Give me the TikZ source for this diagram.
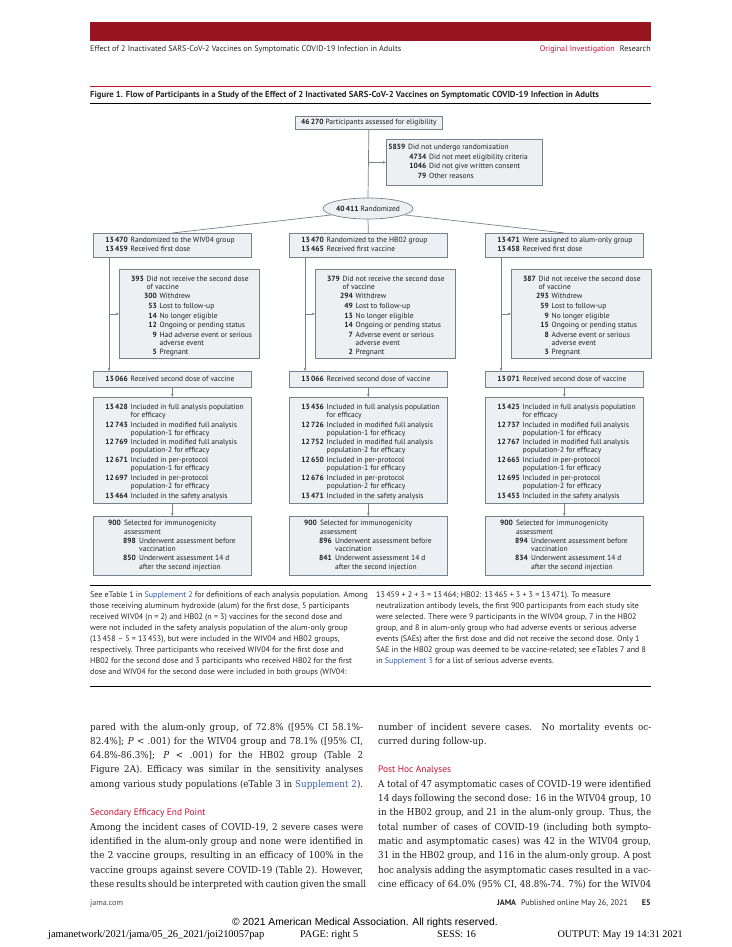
\documentclass[tikz,border=0pt]{standalone}
\usepackage{fontspec}
\setmainfont{DejaVu Serif}[FakeStretch=0.92]
\newfontfamily\sff{PT Sans}
\newfontfamily\arialf{Liberation Sans}
\newfontfamily\timesf{Liberation Serif}
\usetikzlibrary{arrows.meta,calc,shapes.geometric}
\definecolor{barred}{RGB}{152,20,30}
\definecolor{jred}{RGB}{205,16,50}
\definecolor{jblue}{RGB}{50,90,170}
\definecolor{boxfill}{RGB}{237,240,243}
\definecolor{boxline}{RGB}{120,128,136}
\definecolor{txt}{RGB}{30,30,35}
\newcounter{tn}
\newcommand\itm[5]{\stepcounter{tn}\node[numtxt] (q\arabic{tn}n) at (#1,#3) {#4};\node[boxtxt] (q\arabic{tn}t) at (#2,#3) {#5};}
\newcommand\wrp[3]{\stepcounter{tn}\node[boxtxt] (q\arabic{tn}w) at (#1,#2) {#3};}
\newcommand\colboxes[1]{%
 \node[flowbox, minimum width=158pt, minimum height=24pt] (#11) at (93,233) {};
 \node[flowbox, minimum width=140pt, minimum height=89pt] (#12) at (119,269) {};
 \node[flowbox, minimum width=158pt, minimum height=16pt] (#13) at (93,371) {};
 \node[flowbox, minimum width=158pt, minimum height=106pt] (#14) at (93,397) {};
 \node[flowbox, minimum width=158pt, minimum height=59pt] (#15) at (93,516) {};
 \coordinate (#1v) at ($(#11.south west)+(16,0)$);
 \coordinate (#1b) at (#1v |- #12.west);
 \draw[arrline] (#1v) -- (#1v |- #13.north);
 \draw[arrline] (#1b) -- (#12.west);
 \draw[arrline] (#13.south) -- (#14.north);
 \draw[arrline] (#14.south) -- (#15.north);}
\newcommand\boxone[4]{\itm{128}{130.5}{242.5}{#1}{#2}\itm{128}{130.5}{251.5}{#3}{#4}}
\newcommand\boxtwo[8]{%
 \itm{144}{146.5}{281.5}{#1}{Did not receive the second dose}\wrp{146.5}{289.3}{of vaccine}
 \itm{157}{159.5}{298.9}{#2}{Withdrew}
 \itm{157}{159.5}{308.5}{#3}{Lost to follow-up}
 \itm{157}{159.5}{318.1}{#4}{No longer eligible}
 \itm{157}{159.5}{327.7}{#5}{Ongoing or pending status}
 \itm{157}{159.5}{337.3}{#6}{#8 event or serious}\wrp{159.5}{345.1}{adverse event}
 \itm{157}{159.5}{354.7}{#7}{Pregnant}}
\newcommand\boxthree[1]{\itm{128}{130.5}{381.5}{#1}{Received second dose of vaccine}}
\newcommand\boxfour[6]{%
 \itm{128}{130.5}{409.5}{#1}{Included in full analysis population}\wrp{130.5}{417.3}{for efficacy}
 \itm{128}{130.5}{427.2}{#2}{Included in modified full analysis}\wrp{130.5}{435}{population-1 for efficacy}
 \itm{128}{130.5}{444.9}{#3}{Included in modified full analysis}\wrp{130.5}{452.7}{population-2 for efficacy}
 \itm{128}{130.5}{462.6}{#4}{Included in per-protocol}\wrp{130.5}{470.4}{population-1 for efficacy}
 \itm{128}{130.5}{480.3}{#5}{Included in per-protocol}\wrp{130.5}{488.1}{population-2 for efficacy}
 \itm{128}{130.5}{498}{#6}{Included in the safety analysis}}
\newcommand\boxfive[3]{%
 \itm{121}{124}{525.5}{#1}{Selected for immunogenicity}\wrp{124}{534}{assessment}
 \itm{136}{139}{543}{#2}{Underwent assessment before}\wrp{139}{551.5}{vaccination}
 \itm{136}{139}{560.5}{#3}{Underwent assessment 14 d}\wrp{139}{569}{after the second injection}}
\newcommand\jl[3]{\stepcounter{tn}\node[bodytxt] (q\arabic{tn}j) at (#1,#2) {\makebox[273pt][s]{#3}};}
\newcommand\nl[3]{\stepcounter{tn}\node[bodytxt] (q\arabic{tn}j) at (#1,#2) {#3};}
\newcommand\capl[3]{\stepcounter{tn}\node[captxt] (q\arabic{tn}c) at (#1,#2) {#3};}
\newcommand\suplink[1]{\textcolor{jblue}{#1}}
\begin{document}
\begin{tikzpicture}[x=1pt,y=-1pt,
 flowbox/.style={draw=boxline, fill=boxfill, line width=0.7pt, inner sep=0pt, anchor=north west},
 connline/.style={draw=boxline, line width=0.7pt},
 arrline/.style={connline, -{Stealth[length=3.2pt,width=2.6pt]}},
 numtxt/.style={font=\sff\bfseries\fontsize{7.5}{8}\selectfont, text=txt, inner sep=0pt, anchor=base east},
 boxtxt/.style={font=\sff\fontsize{7.5}{8}\selectfont, text=txt, inner sep=0pt, anchor=base west},
 hdtxt/.style={font=\sff\fontsize{8.1}{9}\selectfont, text=black!85, inner sep=0pt},
 captxt/.style={font=\sff\fontsize{8.05}{9}\selectfont, text=black!85, inner sep=0pt, anchor=base west},
 bodytxt/.style={font=\fontsize{9.5}{10}\selectfont, text=black!88, inner sep=0pt, anchor=base west},
 headtxt/.style={font=\sff\fontsize{9.4}{12}\selectfont, text=jred, inner sep=0pt, anchor=base west}]
\useasboundingbox (0,0) rectangle (731,947);
\fill[white] (0,0) rectangle (731,947);
% header
\fill[barred] (90,22) rectangle (651,41);
\node[hdtxt, anchor=base west] (hdl) at (90,52) {Effect of 2 Inactivated SARS-CoV-2 Vaccines on Symptomatic COVID-19 Infection in Adults};
\node[hdtxt, anchor=base east] (hdr) at (651,52) {\textcolor{jred}{Original Investigation}\hspace{5pt}Research};
\draw[jred, line width=1.2pt] (90,86.5) -- (651,86.5);
\node[hdtxt, font=\sff\bfseries\fontsize{8.7}{9}\selectfont, anchor=base west] (figt) at (90,98) {Figure 1. Flow of Participants in a Study of the Effect of 2 Inactivated SARS-CoV-2 Vaccines on Symptomatic COVID-19 Infection in Adults};
\draw[black, line width=0.8pt] (90,103.5) -- (651,103.5);
% top of flow
\node[flowbox, minimum width=147pt, minimum height=13pt] (elig) at (295,116) {};
\node[boxtxt, anchor=center] (eligt) at (elig.center) {\textbf{46\,270} Participants assessed for eligibility};
\node[flowbox, minimum width=156pt, minimum height=46pt] (excl) at (386,139) {};
\itm{405.5}{408}{149.5}{5859}{Did not undergo randomization}
\itm{426.5}{429}{159.1}{4734}{Did not meet eligibility criteria}
\itm{426.5}{429}{168.7}{1046}{Did not give written consent}
\itm{426.5}{429}{178.3}{79}{Other reasons}
\node[draw=boxline, fill=boxfill, line width=0.7pt, ellipse, minimum width=90pt, minimum height=21pt, inner sep=0pt] (rand) at (368,208.5) {};
\node[boxtxt, anchor=center] (randt) at (rand.center) {\textbf{40\,411} Randomized};
\draw[connline] (elig.south) -- (rand.north);
\coordinate (exb) at (elig.south |- excl.west);
\draw[arrline] (exb) -- (excl.west);
% columns
\begin{scope}
\colboxes{a}
\boxone{13\,470}{Randomized to the WIV04 group}{13\,459}{Received first dose}
\boxtwo{393}{300}{53}{14}{12}{9}{5}{Had adverse}
\boxthree{13\,066}
\boxfour{13\,428}{12\,743}{12\,769}{12\,671}{12\,697}{13\,464}
\boxfive{900}{898}{850}
\end{scope}
\begin{scope}[xshift=196pt]
\colboxes{b}
\boxone{13\,470}{Randomized to the HB02 group}{13\,465}{Received first vaccine}
\boxtwo{379}{294}{49}{13}{14}{7}{2}{Adverse}
\boxthree{13\,066}
\boxfour{13\,436}{12\,726}{12\,752}{12\,650}{12\,676}{13\,471}
\boxfive{900}{896}{841}
\end{scope}
\begin{scope}[xshift=392pt]
\colboxes{c}
\boxone{13\,471}{Were assigned to alum-only group}{13\,458}{Received first dose}
\boxtwo{387}{293}{59}{9}{15}{8}{3}{Adverse}
\boxthree{13\,071}
\boxfour{13\,425}{12\,737}{12\,767}{12\,665}{12\,695}{13\,453}
\boxfive{900}{894}{834}
\end{scope}
\draw[connline] (rand.190) -- (a1.north);
\draw[connline] (rand.south) -- (b1.north);
\draw[connline] (rand.350) -- (c1.north);
% caption
\draw[black, line width=0.8pt] (90,585) -- (651,585);
\capl{90}{597}{See eTable 1 in \suplink{Supplement 2} for definitions of each analysis population. Among}
\capl{90}{608}{those receiving aluminum hydroxide (alum) for the first dose, 5 participants}
\capl{90}{619}{received WIV04 (n = 2) and HB02 (n = 3) vaccines for the second dose and}
\capl{90}{630}{were not included in the safety analysis population of the alum-only group}
\capl{90}{641}{(13\,458 \textendash{} 5 = 13\,453), but were included in the WIV04 and HB02 groups,}
\capl{90}{652}{respectively. Three participants who received WIV04 for the first dose and}
\capl{90}{663}{HB02 for the second dose and 3 participants who received HB02 for the first}
\capl{90}{674}{dose and WIV04 for the second dose were included in both groups (WIV04:}
\capl{376}{597}{13\,459 + 2 + 3 = 13\,464; HB02: 13\,465 + 3 + 3 = 13\,471). To measure}
\capl{376}{608}{neutralization antibody levels, the first 900 participants from each study site}
\capl{376}{619}{were selected. There were 9 participants in the WIV04 group, 7 in the HB02}
\capl{376}{630}{group, and 8 in alum-only group who had adverse events or serious adverse}
\capl{376}{641}{events (SAEs) after the first dose and did not receive the second dose. Only 1}
\capl{376}{652}{SAE in the HB02 group was deemed to be vaccine-related; see eTables 7 and 8}
\capl{376}{663}{in \suplink{Supplement 3} for a list of serious adverse events.}
\draw[black, line width=0.8pt] (90,686) -- (651,686);
% body left
\jl{90}{730}{pared with the alum-only group, of 72.8\% ([95\% CI 58.1\%-}
\jl{90}{744.3}{82.4\%]; \textit{P} < .001) for the WIV04 group and 78.1\% ([95\% CI,}
\jl{90}{758.6}{64.8\%-86.3\%]; \textit{P} < .001) for the HB02 group (Table 2}
\jl{90}{772.9}{Figure 2A). Efficacy was similar in the sensitivity analyses}
\jl{90}{787.2}{among various study populations (eTable 3 in \suplink{Supplement 2}).}
\stepcounter{tn}\node[headtxt] (q\arabic{tn}h) at (90,815.8) {Secondary Efficacy End Point};
\jl{90}{830.1}{Among the incident cases of COVID-19, 2 severe cases were}
\jl{90}{844.4}{identified in the alum-only group and none were identified in}
\jl{90}{858.7}{the 2 vaccine groups, resulting in an efficacy of 100\% in the}
\jl{90}{873}{vaccine groups against severe COVID-19 (Table 2). However,}
\jl{90}{887.3}{these results should be interpreted with caution given the small}
% body right
\jl{378}{730}{number of incident severe cases. No mortality events oc-}
\nl{378}{744.3}{curred during follow-up.}
\stepcounter{tn}\node[headtxt] (q\arabic{tn}h) at (378,772.9) {Post Hoc Analyses};
\jl{378}{787.2}{A total of 47 asymptomatic cases of COVID-19 were identified}
\jl{378}{801.5}{14 days following the second dose: 16 in the WIV04 group, 10}
\jl{378}{815.8}{in the HB02 group, and 21 in the alum-only group. Thus, the}
\jl{378}{830.1}{total number of cases of COVID-19 (including both sympto-}
\jl{378}{844.4}{matic and asymptomatic cases) was 42 in the WIV04 group,}
\jl{378}{858.7}{31 in the HB02 group, and 116 in the alum-only group. A post}
\jl{378}{873}{hoc analysis adding the asymptomatic cases resulted in a vac-}
\jl{378}{887.3}{cine efficacy of 64.0\% (95\% CI, 48.8\%-74. 7\%) for the WIV04}
% footer
\node[hdtxt, anchor=base west, text=black!70] (ft1) at (90,905.5) {jama.com};
\node[hdtxt, anchor=base east] (ft2) at (651,905.5) {\textbf{JAMA}\hspace{5pt}Published online May 26, 2021\hspace{14pt}\textbf{E5}};
\node[font=\arialf\fontsize{10.3}{11}\selectfont, inner sep=0pt, anchor=base] (ft3) at (365,925.5) {\textcopyright{} 2021 American Medical Association. All rights reserved.};
\node[font=\timesf\fontsize{10.4}{11}\selectfont, inner sep=0pt, anchor=base west] (ft4) at (48,937.5) {jamanetwork/2021/jama/05\_26\_2021/joi210057pap};
\node[font=\timesf\fontsize{10.2}{11}\selectfont, inner sep=0pt, anchor=base west] (ft5) at (300,937.5) {PAGE: right 5};
\node[font=\timesf\fontsize{10.2}{11}\selectfont, inner sep=0pt, anchor=base west] (ft6) at (437,937.5) {SESS: 16};
\node[font=\timesf\fontsize{10.2}{11}\selectfont, inner sep=0pt, anchor=base east] (ft7) at (683,937.5) {OUTPUT: May 19 14:31 2021};
\end{tikzpicture}
\end{document}
